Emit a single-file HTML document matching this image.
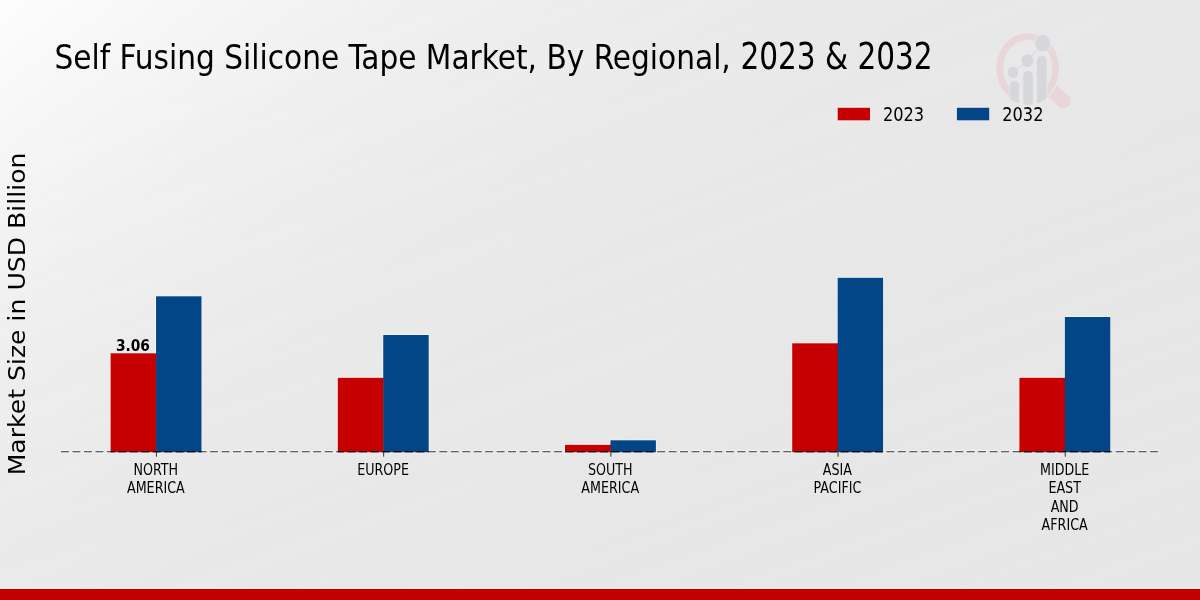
<!DOCTYPE html>
<html><head><meta charset="utf-8">
<title>Self Fusing Silicone Tape Market</title>
<style>
html,body{margin:0;padding:0;width:1200px;height:600px;overflow:hidden;background:#e8e8e8}
svg{display:block}
.c{font-family:"DejaVu Sans Condensed","DejaVu Sans","Liberation Sans",sans-serif;font-stretch:condensed}
.n{font-family:"DejaVu Sans","Liberation Sans",sans-serif}
</style></head><body>
<svg width="1200" height="600" viewBox="0 0 1200 600">
<defs>
<linearGradient id="bg" gradientUnits="userSpaceOnUse" x1="0" y1="0" x2="708.8" y2="956.6">
<stop offset="0" stop-color="#fdfdfd"/>
<stop offset="0.1" stop-color="#f6f6f6"/>
<stop offset="0.2" stop-color="#f0f0f0"/>
<stop offset="0.3" stop-color="#ececec"/>
<stop offset="0.4" stop-color="#e9e9e9"/>
<stop offset="0.6" stop-color="#e7e7e7"/>
<stop offset="1" stop-color="#e6e6e6"/>
</linearGradient>
<pattern id="st" patternUnits="userSpaceOnUse" width="400" height="150" patternTransform="rotate(-20)">
<rect x="0" y="10" width="400" height="14" fill="#fff" opacity="0.05"/>
<rect x="0" y="52" width="400" height="7" fill="#fff" opacity="0.055"/>
<rect x="0" y="88" width="400" height="22" fill="#fff" opacity="0.04"/>
<rect x="0" y="128" width="400" height="5" fill="#fff" opacity="0.055"/>
</pattern>
<clipPath id="bc"><rect x="110.60" y="440" width="90.90" height="20"/><rect x="337.80" y="440" width="90.90" height="20"/><rect x="565.00" y="440" width="90.90" height="20"/><rect x="792.20" y="440" width="90.90" height="20"/><rect x="1019.40" y="440" width="90.90" height="20"/></clipPath>
<clipPath id="lc"><ellipse cx="1028" cy="69.3" rx="32.2" ry="35.6"/></clipPath>
</defs>
<rect width="1200" height="600" fill="url(#bg)"/>
<rect width="1200" height="600" fill="url(#st)"/>

<text id="t1" class="c" transform="translate(54.4,69) scale(0.9577,1)" font-size="34.4" fill="#000" style="white-space:pre">Self Fusing Silicone Tape Market, By Regional, </text>
<text id="t2" class="c" transform="translate(740.4,69) scale(0.9554,1.07)" font-size="34.4" fill="#000">2023 &amp; 2032</text>
<text class="n" transform="translate(25.1,475.3) rotate(-90) scale(1,0.895)" font-size="25.13" fill="#000">Market Size in USD Billion</text>

<!-- logo -->
<g id="logo">
<ellipse cx="1027.7" cy="68.2" rx="28.1" ry="31.8" fill="none" stroke="#e9d6d8" stroke-width="7"/>
<line x1="1052" y1="90.4" x2="1063.6" y2="101.3" stroke="#e9d6d8" stroke-width="14"/>
<circle cx="1063.6" cy="101.3" r="7" fill="#e9d6d8"/>
<ellipse cx="1027.7" cy="68.2" rx="32.2" ry="36" fill="none" stroke="#e9e9e9" stroke-width="1.2"/>
<g clip-path="url(#lc)">
<rect x="1009.3" y="90" width="38" height="20" fill="#e9e9e9"/>
<g fill="#d6d7da" stroke="#e9e9e9" stroke-width="0.7">
<rect x="1009.4" y="80.6" width="10.1" height="40" rx="5"/>
<rect x="1022.8" y="70.5" width="10.5" height="50" rx="5.2"/>
<rect x="1036.5" y="55.5" width="10.6" height="60" rx="5.2"/>
</g></g>
<polyline points="1013,72.4 1027.4,60.6 1042.7,43.1" fill="none" stroke="#d6d7da" stroke-width="1"/>
<ellipse cx="1013" cy="72.4" rx="5.3" ry="5.8" fill="#d6d7da"/>
<ellipse cx="1027.4" cy="60.6" rx="5.9" ry="6.4" fill="#d6d7da"/>
<ellipse cx="1042.7" cy="43.1" rx="7.8" ry="8.8" fill="#d6d7da" stroke="#eaeaea" stroke-width="0.8"/>
</g>

<!-- legend -->
<rect x="837.7" y="107.8" width="32.3" height="12.5" fill="#c60000"/>
<text class="c" transform="translate(882.9,121.25) scale(0.899,1)" font-size="20.07" fill="#000">2023</text>
<rect x="956.9" y="107.8" width="32.3" height="12.5" fill="#024688"/>
<text class="c" transform="translate(1002.2,121.25) scale(0.899,1)" font-size="20.07" fill="#000">2032</text>

<!-- bars -->
<line x1="60.5" y1="451.7" x2="1158.8" y2="451.7" stroke="#ffffff" stroke-opacity="0.55" stroke-width="3" stroke-dasharray="9 2.464"/>
<g fill="#f7f7f7">
<rect x="110.00" y="352.7" width="46.65" height="98.50"/>
<rect x="155.45" y="295.7" width="46.65" height="155.50"/>
<rect x="337.20" y="377.2" width="46.65" height="74.00"/>
<rect x="382.65" y="334.4" width="46.65" height="116.80"/>
<rect x="564.40" y="444.2" width="46.65" height="7.00"/>
<rect x="609.85" y="439.7" width="46.65" height="11.50"/>
<rect x="791.60" y="342.7" width="46.65" height="108.50"/>
<rect x="837.05" y="277.2" width="46.65" height="174.00"/>
<rect x="1018.80" y="377.2" width="46.65" height="74.00"/>
<rect x="1064.25" y="316.4" width="46.65" height="134.80"/>
</g>
<g>
<rect x="110.60" y="353.3" width="45.95" height="98.90" fill="#c60000"/>
<rect x="156.05" y="296.3" width="45.45" height="155.90" fill="#024688"/>
<rect x="337.80" y="377.8" width="45.95" height="74.40" fill="#c60000"/>
<rect x="383.25" y="335.0" width="45.45" height="117.20" fill="#024688"/>
<rect x="565.00" y="444.8" width="45.95" height="7.40" fill="#c60000"/>
<rect x="610.45" y="440.3" width="45.45" height="11.90" fill="#024688"/>
<rect x="792.20" y="343.3" width="45.95" height="108.90" fill="#c60000"/>
<rect x="837.65" y="277.8" width="45.45" height="174.40" fill="#024688"/>
<rect x="1019.40" y="377.8" width="45.95" height="74.40" fill="#c60000"/>
<rect x="1064.85" y="317.0" width="45.45" height="135.20" fill="#024688"/>
</g>

<!-- axis -->
<line x1="61" y1="451.7" x2="1158.3" y2="451.7" stroke="#303030" stroke-width="1.1" stroke-dasharray="8 3.464"/>
<line x1="61" y1="451.7" x2="1158.3" y2="451.7" stroke="#000" stroke-width="1.1" stroke-dasharray="8 3.464" clip-path="url(#bc)"/>
<line x1="156.45" y1="451.8" x2="156.45" y2="456.7" stroke="#222" stroke-width="0.9"/>
<line x1="383.65" y1="451.8" x2="383.65" y2="456.7" stroke="#222" stroke-width="0.9"/>
<line x1="610.85" y1="451.8" x2="610.85" y2="456.7" stroke="#222" stroke-width="0.9"/>
<line x1="838.05" y1="451.8" x2="838.05" y2="456.7" stroke="#222" stroke-width="0.9"/>
<line x1="1065.25" y1="451.8" x2="1065.25" y2="456.7" stroke="#222" stroke-width="0.9"/>

<text class="c" transform="translate(132.9,350.6) scale(1.01,1)" font-size="15.2" font-weight="bold" text-anchor="middle" fill="#000">3.06</text>

<g class="c" font-size="15.4" text-anchor="middle" fill="#000">
<text transform="translate(155.85,474.50) scale(0.917,1)">NORTH</text>
<text transform="translate(155.85,493.15) scale(0.917,1)">AMERICA</text>
<text transform="translate(383.05,474.50) scale(0.917,1)">EUROPE</text>
<text transform="translate(610.25,474.50) scale(0.917,1)">SOUTH</text>
<text transform="translate(610.25,493.15) scale(0.917,1)">AMERICA</text>
<text transform="translate(837.45,474.50) scale(0.917,1)">ASIA</text>
<text transform="translate(837.45,493.15) scale(0.917,1)">PACIFIC</text>
<text transform="translate(1064.65,474.50) scale(0.917,1)">MIDDLE</text>
<text transform="translate(1064.65,493.15) scale(0.917,1)">EAST</text>
<text transform="translate(1064.65,511.80) scale(0.917,1)">AND</text>
<text transform="translate(1064.65,530.45) scale(0.917,1)">AFRICA</text>
</g>
<rect x="0" y="587.8" width="1200" height="1.2" fill="#f4fbfb"/>
<rect x="0" y="588.9" width="1200" height="11.1" fill="#c00000"/>
</svg>
</body></html>
